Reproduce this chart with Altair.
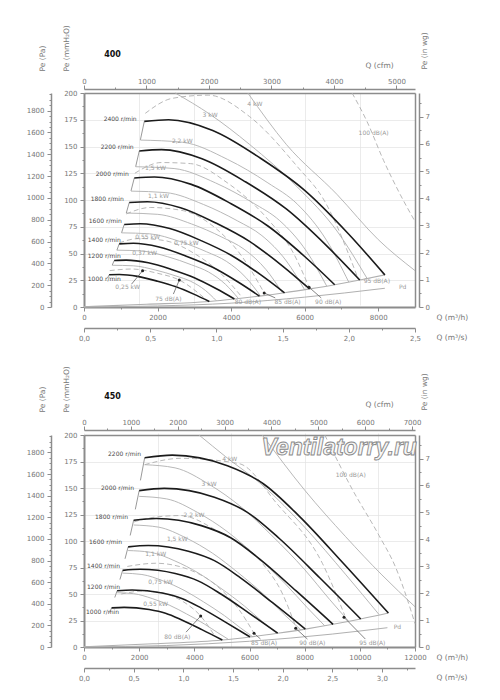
import altair as alt
import pandas as pd

# ===================== panel "400" =====================
S400 = [1000, 1200, 1400, 1600, 1800, 2000, 2200, 2400]
Q400 = [
    [683, 958, 1458, 2000, 2500, 3000, 3408],
    [820, 1150, 1750, 2400, 3000, 3600, 4090],
    [957, 1342, 2042, 2800, 3500, 4200, 4772],
    [1093, 1533, 2333, 3200, 4000, 4800, 5453],
    [1230, 1725, 2625, 3600, 4500, 5400, 6135],
    [1367, 1917, 2917, 4000, 5000, 6000, 6817],
    [1503, 2108, 3208, 4400, 5500, 6600, 7498],
    [1640, 2300, 3500, 4800, 6000, 7200, 8180],
]
P400 = [
    [30.1, 30.4, 28.6, 24.1, 18.9, 11.8, 5.2],
    [43.4, 43.8, 41.3, 34.8, 27.3, 17.0, 7.5],
    [59.0, 59.6, 56.1, 47.3, 37.1, 23.1, 10.2],
    [77.1, 77.8, 73.3, 61.8, 48.4, 30.2, 13.3],
    [97.6, 98.4, 92.8, 78.2, 61.3, 38.3, 16.9],
    [120.5, 121.5, 114.6, 96.5, 75.7, 47.2, 20.8],
    [145.8, 147.1, 138.6, 116.8, 91.6, 57.1, 25.2],
    [173.5, 175.0, 165.0, 139.0, 109.0, 68.0, 30.0],
]
STALL400_Q = [639, 767, 895, 1022, 1150, 1278, 1405, 1533]
STALL400_P = [27.1, 39.1, 53.1, 69.4, 87.8, 108.5, 131.2, 156.2]
LBL400_Q = [999, 999, 999, 1026, 1080, 1215, 1350, 1431]
LBL400_P = [25.9, 47.7, 62.6, 80.4, 101.2, 124.0, 149.5, 176.0]

KW400_Q = [
    [767, 1337, 1950, 2500, 2903, 3300, 3600],
    [894, 1559, 2275, 2917, 3386, 3850, 4200],
    [1022, 1782, 2600, 3333, 3870, 4400, 4800],
    [1150, 2005, 2925, 3750, 4354, 4950, 5400],
    [1278, 2228, 3250, 4167, 4838, 5500, 6000],
    [1405, 2450, 3575, 4583, 5321, 6050, 6600],
    [1533, 2673, 3900, 5000, 5805, 6600, 7200],
    [2480, 3429, 4500, 5805, 6900, 7700],
    [4455, 5500, 6885, 8000, 9000],
]
KW400_P = [
    [39.0, 38.5, 34.5, 29.0, 24.0, 15.5, 5.8],
    [53.1, 52.4, 47.0, 39.5, 32.7, 21.1, 7.9],
    [69.3, 68.4, 61.3, 51.6, 42.7, 27.6, 10.3],
    [87.8, 86.6, 77.6, 65.3, 54.0, 34.9, 13.1],
    [108.3, 106.9, 95.8, 80.6, 66.7, 43.1, 16.1],
    [131.1, 129.4, 116.0, 97.5, 80.7, 52.1, 19.5],
    [156.0, 154.0, 138.0, 116.0, 96.0, 62.0, 23.2],
    [200.0, 180.0, 152.0, 112.0, 70.0, 26.5],
    [200.0, 152.0, 105.0, 63.0, 34.0],
]
KW400_TXT = ["0,25 kW", "0,37 kW", "0,55 kW", "0,75 kW", "1,1 kW", "1,5 kW", "2,2 kW", "3 kW", "4 kW"]
KW400_TQ = [1188, 1647, 1728, 2781, 2025, 1944, 2673, 3429, 4644]
KW400_TP = [18.4, 50.2, 65.7, 60.1, 104.0, 129.6, 155.4, 179.4, 189.7]

DB400_Q = [
    [700, 1300, 2000, 2592, 3286],
    [958, 1500, 2200, 3000, 3700, 4300],
    [1150, 1800, 2700, 3600, 4300, 4900],
    [1383, 2100, 2900, 3900, 5000, 5700, 6120],
    [1666, 2400, 3375, 4500, 5805, 6525, 7470],
    [7289, 7700, 8145, 8600, 9000],
]
DB400_P = [
    [34.0, 35.5, 31.5, 25.2, 8.0],
    [60.0, 64.0, 62.0, 50.0, 32.0, 9.0],
    [87.0, 93.0, 90.0, 73.0, 47.0, 13.1],
    [125.0, 135.0, 134.0, 116.0, 82.0, 50.0, 18.4],
    [181.0, 195.0, 198.0, 178.0, 131.0, 100.0, 25.0],
    [200.0, 173.0, 137.0, 105.0, 80.0],
]
DB400_TXT = ["75 dB(A)", "80 dB(A)", "85 dB(A)", "90 dB(A)", "95 dB(A)", "100 dB(A)", "Pd"]
DB400_TQ = [2295, 4455, 5535, 6641, 7964, 7875, 8666]
DB400_TP = [7.2, 5.0, 5.0, 5.0, 24.3, 162.9, 18.4]

END400_Q = [0, 1700, 3408, 4090, 4772, 5453, 6135, 6817, 7498, 8180]
END400_P = [0.3, 2.5, 5.2, 7.5, 10.2, 13.3, 16.9, 20.8, 25.2, 30.0]
PD400_Q = [0, 2000, 4000, 6000, 8180]
PD400_P = [0.0, 1.0, 3.6, 9.2, 17.5]
LEAD400 = [(1296, 21.5, 1593, 33.9), (2430, 12.1, 2592, 25.2),
           (5200, 8.5, 4900, 13.1), (6450, 8.5, 6120, 18.4)]
DOT400_Q = [1593, 2592, 4900, 6120]
DOT400_P = [33.9, 25.2, 13.1, 18.4]

# ===================== panel "450" =====================
S450 = [1000, 1200, 1400, 1600, 1800, 2000, 2200]
Q450 = [
    [1000, 1455, 2364, 2955, 3545, 4273, 5016],
    [1200, 1745, 2836, 3545, 4255, 5127, 6019],
    [1400, 2036, 3309, 4136, 4964, 5982, 7022],
    [1600, 2327, 3782, 4727, 5673, 6836, 8025],
    [1800, 2618, 4255, 5318, 6382, 7691, 9029],
    [2000, 2909, 4727, 5909, 7091, 8545, 10032],
    [2200, 3200, 5200, 6500, 7800, 9400, 11035],
]
P450 = [
    [36.9, 37.4, 35.3, 31.8, 25.5, 16.4, 6.6],
    [53.1, 53.8, 50.9, 45.8, 36.7, 23.5, 9.5],
    [72.3, 73.3, 69.3, 62.4, 50.0, 32.0, 13.0],
    [94.5, 95.7, 90.4, 81.5, 65.3, 41.8, 16.9],
    [119.6, 121.2, 114.5, 103.1, 82.7, 52.9, 21.4],
    [147.5, 149.6, 141.3, 127.3, 102.1, 65.3, 26.4],
    [178.6, 181.0, 171.0, 154.0, 123.5, 79.0, 32.0],
]
STALL450_Q = [930, 1116, 1302, 1488, 1674, 1860, 2046]
STALL450_P = [32.5, 46.7, 63.6, 83.2, 105.2, 129.8, 157.2]
LBL450_Q = [1269, 1305, 1305, 1378, 1595, 1813, 2067]
LBL450_P = [33.0, 56.9, 76.4, 98.8, 122.9, 150.3, 181.8]

KW450_Q = [
    [1200, 1800, 2472, 3109, 3718, 4364, 4855, 5236],
    [1400, 2100, 2884, 3627, 4338, 5091, 5664, 6109],
    [1600, 2400, 3296, 4146, 4957, 5818, 6473, 6982],
    [1800, 2700, 3708, 4664, 5577, 6545, 7282, 7855],
    [2000, 3000, 4120, 5182, 6196, 7273, 8091, 8727],
    [2200, 3300, 4532, 5700, 6816, 8000, 8900, 9600],
    [4170, 5137, 6500, 8000, 9500, 10700],
    [6465, 8000, 9488, 10800, 12000],
]
KW450_P = [
    [51.2, 50.3, 45.7, 39.3, 31.2, 21.7, 13.4, 7.2],
    [69.7, 68.4, 62.2, 53.5, 42.5, 29.6, 18.2, 9.8],
    [91.0, 89.4, 81.2, 69.8, 55.5, 38.6, 23.8, 12.8],
    [115.1, 113.1, 102.8, 88.4, 70.3, 48.9, 30.1, 16.2],
    [142.1, 139.7, 126.9, 109.1, 86.8, 60.3, 37.2, 20.0],
    [172.0, 169.0, 153.5, 132.0, 105.0, 73.0, 45.0, 24.2],
    [200.0, 179.5, 152.0, 113.0, 68.0, 30.5],
    [200.0, 148.0, 104.0, 68.0, 38.0],
]
KW450_TXT = ["0,55 kW", "0,75 kW", "1,1 kW", "1,5 kW", "2,2 kW", "3 kW", "4 kW"]
KW450_TQ = [2600, 2781, 2600, 3383, 3988, 4532, 5283]
KW450_TP = [40.6, 61.6, 87.7, 101.6, 124.5, 153.5, 177.1]

DB450_Q = [
    [1350, 2236, 3000, 3700, 4230, 4700],
    [1570, 2600, 3700, 4800, 5600, 6164],
    [1813, 2418, 3500, 4800, 6465, 7200, 7675],
    [2200, 3500, 5620, 7000, 8641, 9450],
    [8730, 9700, 10700, 11300, 11845, 12000],
]
DB450_P = [
    [50.0, 53.0, 50.0, 41.0, 29.2, 12.0],
    [76.0, 79.0, 74.0, 58.0, 36.0, 13.0],
    [118.0, 122.0, 124.0, 110.0, 79.0, 50.0, 19.0],
    [172.0, 178.0, 173.0, 135.0, 79.0, 30.0],
    [200.0, 150.0, 105.0, 75.0, 35.0, 22.0],
]
DB450_TXT = ["80 dB(A)", "85 dB(A)", "90 dB(A)", "95 dB(A)", "100 dB(A)", "Pd"]
DB450_TQ = [3383, 6526, 8278, 10453, 9670, 11360]
DB450_TP = [9.7, 4.1, 4.1, 4.1, 162.3, 18.6]

END450_Q = [0, 2500, 5016, 6019, 7022, 8025, 9029, 10032, 11035]
END450_P = [0.3, 3.0, 6.6, 9.5, 13.0, 16.9, 21.4, 26.4, 32.0]
PD450_Q = [0, 3000, 6000, 9000, 11000]
PD450_P = [0.0, 1.4, 5.4, 12.2, 18.2]
LEAD450 = [(3700, 14.0, 4230, 29.2), (6400, 7.5, 6164, 12.9),
           (8100, 7.5, 7675, 17.6), (10200, 7.5, 9427, 28.0)]
DOT450_Q = [4230, 6164, 7675, 9427]
DOT450_P = [29.2, 12.9, 17.6, 28.0]
WATERMARK = ["Ventilatorry.ru"]
WM_Q = [9250]
WM_P = [188]

# ===================== layout / styling =====================
FONT = "DejaVu Sans"
AX = "#8c8c8c"
LAB = "#767676"
GREY = "#b0b0b0"
W = 331
H = 554  # both panels share one view; each panel gets its own pixel range


def series(names, qs, ps):
    rows = []
    for n, ql, pl in zip(names, qs, ps):
        for i, (q, p) in enumerate(zip(ql, pl)):
            rows.append({"s": str(n), "i": i, "Q": q, "P": p})
    return pd.DataFrame(rows)


def axis_style(**kw):
    base = dict(labelFont=FONT, labelFontSize=7, labelColor=LAB, tickColor=AX,
                domainColor=AX, domainWidth=1.5, titleFont=FONT, titleFontSize=7.5,
                titleColor=LAB, titleFontWeight="normal", labelFlush=False,
                labelOverlap=False)
    base.update(kw)
    return alt.Axis(**base)


def axis_layer(ch, dom, rng, **kw):
    sc = alt.Scale(domain=dom, range=rng, nice=False, zero=False)
    hid = alt.Scale(domain=[0, 1], nice=False, zero=False)
    df = pd.DataFrame({"v": dom, "u": [0, 1]})
    if ch == "x":
        enc = {"x": alt.X("v:Q", scale=sc, axis=axis_style(**kw)),
               "y": alt.Y("u:Q", scale=hid, axis=None)}
    else:
        enc = {"y": alt.Y("v:Q", scale=sc, axis=axis_style(**kw)),
               "x": alt.X("u:Q", scale=hid, axis=None)}
    return alt.Chart(df).mark_point(opacity=0).encode(**enc)


def minor(vals, **kw):
    return dict(values=vals, tickSize=2, labels=False, domain=False, title=None, **kw)


def panel(name, L, qmax, qticks, qminor, cfmmax, cfmticks, cfmminor, m3smax, m3sticks, m3sminor,
          S, Q, P, SQ, SP, LQ, LP, KQ, KP, KT, KTQ, KTP, DQ, DP, DT, DTQ, DTP,
          EQ, EP, PQ, PP, LEAD, DQd, DPd, wm=None):
    yr = L["yr"]
    xs = alt.Scale(domain=[0, qmax], range=[0, W], nice=False, zero=False)
    ys = alt.Scale(domain=[0, 200], range=yr, nice=False, zero=False)
    XA = alt.X("Q:Q", scale=xs,
               axis=axis_style(values=qticks, format="d", tickSize=4, labelPadding=2, orient="bottom",
                               offset=L["xoff"], grid=True, gridColor="#e3e3e3", gridWidth=0.7,
                               domainWidth=2, title="Q (m³/h)", titleAngle=0, titleAlign="left",
                               titleBaseline="middle", titleX=352, titleY=10.5))
    YA = alt.Y("P:Q", scale=ys,
               axis=axis_style(values=list(range(0, 201, 25)), tickSize=4, labelPadding=3,
                               orient="left", grid=True, gridColor="#e3e3e3", gridWidth=0.7,
                               domainWidth=2, title="Pe (mmH₂O)", titleAngle=270, titleAlign="left",
                               titleBaseline="middle", titleX=-18, titleY=L["ty"]))
    X = alt.X("Q:Q", scale=xs, axis=None)
    Y = alt.Y("P:Q", scale=ys, axis=None)

    def lines(df, x=X, y=Y, **mk):
        return alt.Chart(df).mark_line(**mk).encode(x=x, y=y, detail="s:N", order=alt.Order("i:Q"))

    kw = lines(series(list(range(len(KQ))), KQ, KP), x=XA, y=YA, color=GREY, strokeWidth=0.9,
               interpolate="monotone")
    db = lines(series(list(range(len(DQ))), DQ, DP), color=GREY, strokeWidth=0.9,
               strokeDash=[5, 3], interpolate="monotone")
    stall = lines(series(S, [[q[0], sq] for q, sq in zip(Q, SQ)],
                         [[p[0], sp] for p, sp in zip(P, SP)]),
                  color="#9a9a9a", strokeWidth=1)
    endl = lines(series(["e"], [EQ], [EP]), color=GREY, strokeWidth=1.1, interpolate="monotone")
    pdl = lines(series(["p"], [PQ], [PP]), color=GREY, strokeWidth=1, interpolate="monotone")
    curves = lines(series(S, Q, P), color="#1b1b1b", strokeWidth=1.6, interpolate="monotone")
    lead_df = pd.DataFrame(LEAD, columns=["Q", "P", "Q2", "P2"])
    leads = alt.Chart(lead_df).mark_rule(color="#666", strokeWidth=0.8).encode(
        x=X, y=Y, x2=alt.X2("Q2:Q"), y2=alt.Y2("P2:Q"))
    dots = alt.Chart(pd.DataFrame({"Q": DQd, "P": DPd})).mark_circle(
        size=9, color="#222", opacity=1).encode(x=X, y=Y)
    spd = alt.Chart(pd.DataFrame({"t": [f"{s} r/min" for s in S], "Q": LQ, "P": LP})).mark_text(
        font=FONT, fontSize=6, color="#4a4a4a", align="right", baseline="middle").encode(
        x=X, y=Y, text="t:N")
    kwt = alt.Chart(pd.DataFrame({"t": KT, "Q": KTQ, "P": KTP})).mark_text(
        font=FONT, fontSize=6, color="#9a9a9a", align="center", baseline="middle").encode(
        x=X, y=Y, text="t:N")
    dbt = alt.Chart(pd.DataFrame({"t": DT, "Q": DTQ, "P": DTP})).mark_text(
        font=FONT, fontSize=6, color="#9a9a9a", align="center", baseline="middle").encode(
        x=X, y=Y, text="t:N")
    parts = [kw, db, stall, endl, pdl, curves, leads, dots, spd, kwt, dbt]
    if wm is not None:
        parts.append(alt.Chart(pd.DataFrame({"t": wm[0], "Q": wm[1], "P": wm[2]})).mark_text(
            font="Liberation Sans", fontSize=23, fontStyle="italic", fontWeight="bold",
            fill="#f6f6f6", stroke="#8a8a8a", strokeWidth=0.9, align="center",
            baseline="middle").encode(x=X, y=Y, text="t:N"))

    pamax = 1961.33
    inmax = 7.874
    xr = [0, W]
    parts += [
        axis_layer("y", [0, pamax], yr, orient="left", offset=33, values=list(range(0, 1801, 200)),
                   format="d", tickSize=4, labelPadding=3, title="Pe (Pa)", titleAngle=270,
                   titleAlign="left", titleBaseline="middle", titleX=-9, titleY=L["ty"]),
        axis_layer("y", [0, pamax], yr, **minor([v for v in range(50, 1961, 50) if v % 200],
                                                orient="left", offset=33)),
        axis_layer("y", [0, 200], yr, **minor([12.5 + 25 * k for k in range(8)], orient="left", offset=0)),
        axis_layer("y", [0, inmax], yr, orient="right", offset=4, values=list(range(0, 8)),
                   format="d", tickSize=4, labelPadding=2, title="Pe (in wg)", titleAngle=270,
                   titleAlign="left", titleBaseline="middle", titleX=5, titleY=L["ty"] - 2),
        axis_layer("y", [0, inmax], yr, **minor([0.5 + k for k in range(8)], orient="right", offset=4)),
        axis_layer("y", [0, 200], yr, values=[], tickSize=0, labels=False, domain=True, title=None,
                   orient="right", offset=0),
        axis_layer("x", [0, cfmmax], xr, orient="top", offset=L["cfmoff"], values=cfmticks, format="d",
                   tickSize=4, labelPadding=1, title="Q (cfm)", titleAngle=0, titleAlign="left",
                   titleBaseline="middle", titleX=281, titleY=L["cfmty"]),
        axis_layer("x", [0, cfmmax], xr, values=cfmminor, tickSize=2, labels=False, domain=False,
                   orient="top", offset=L["cfmoff"], title=name, titleAngle=0, titleAlign="center",
                   titleBaseline="middle", titleX=28, titleY=L["namety"], titleFontWeight="bold",
                   titleColor="#111", titleFontSize=8),
        axis_layer("x", [0, qmax], xr, values=[], tickSize=0, labels=False, domain=True, title=None,
                   orient="top", offset=L["frameoff"]),
        axis_layer("x", [0, qmax], xr, **minor(qminor, orient="bottom", offset=L["xoff"])),
        axis_layer("x", [0, m3smax], xr, orient="bottom", offset=L["xoff"] + 21, values=m3sticks,
                   labelExpr="replace(format(datum.value, '.1f'), '.', ',')",
                   tickSize=4, labelPadding=2, title="Q (m³/s)", titleAngle=0, titleAlign="left",
                   titleBaseline="middle", titleX=352, titleY=9),
        axis_layer("x", [0, m3smax], xr, **minor(m3sminor, orient="bottom", offset=L["xoff"] + 21)),
    ]
    return parts


L400 = dict(yr=[214, 0], xoff=-(H - 214), cfmoff=4, frameoff=0, ty=-22, cfmty=-24, namety=-35)
L450 = dict(yr=[H, 342], xoff=0, cfmoff=-337, frameoff=-342, ty=342 - 23, cfmty=-26, namety=-34)

top = panel("400", L400, 9000, list(range(0, 8001, 2000)), [1000, 3000, 5000, 7000],
            9000 / 1.699, list(range(0, 5001, 1000)), [500 + 1000 * k for k in range(5)],
            2.5, [0, 0.5, 1.0, 1.5, 2.0, 2.5], [0.25, 0.75, 1.25, 1.75, 2.25],
            S400, Q400, P400, STALL400_Q, STALL400_P, LBL400_Q, LBL400_P,
            KW400_Q, KW400_P, KW400_TXT, KW400_TQ, KW400_TP,
            DB400_Q, DB400_P, DB400_TXT, DB400_TQ, DB400_TP,
            END400_Q, END400_P, PD400_Q, PD400_P, LEAD400, DOT400_Q, DOT400_P)

bottom = panel("450", L450, 12000, list(range(0, 12001, 2000)), [1000, 3000, 5000, 7000, 9000, 11000],
               12000 / 1.699, list(range(0, 7001, 1000)), [500 + 1000 * k for k in range(7)],
               12000 / 3600, [0, 0.5, 1.0, 1.5, 2.0, 2.5, 3.0], [0.25, 0.75, 1.25, 1.75, 2.25, 2.75, 3.25],
               S450, Q450, P450, STALL450_Q, STALL450_P, LBL450_Q, LBL450_P,
               KW450_Q, KW450_P, KW450_TXT, KW450_TQ, KW450_TP,
               DB450_Q, DB450_P, DB450_TXT, DB450_TQ, DB450_TP,
               END450_Q, END450_P, PD450_Q, PD450_P, LEAD450, DOT450_Q, DOT450_P,
               wm=(WATERMARK, WM_Q, WM_P))

chart = alt.layer(*top, *bottom).resolve_scale(x="independent", y="independent").properties(
    width=W, height=H, padding={"left": 18, "top": 16, "right": 2, "bottom": 2}
).configure_view(strokeOpacity=0)

chart.save("out.html", embed_options={"renderer": "svg", "actions": False})
